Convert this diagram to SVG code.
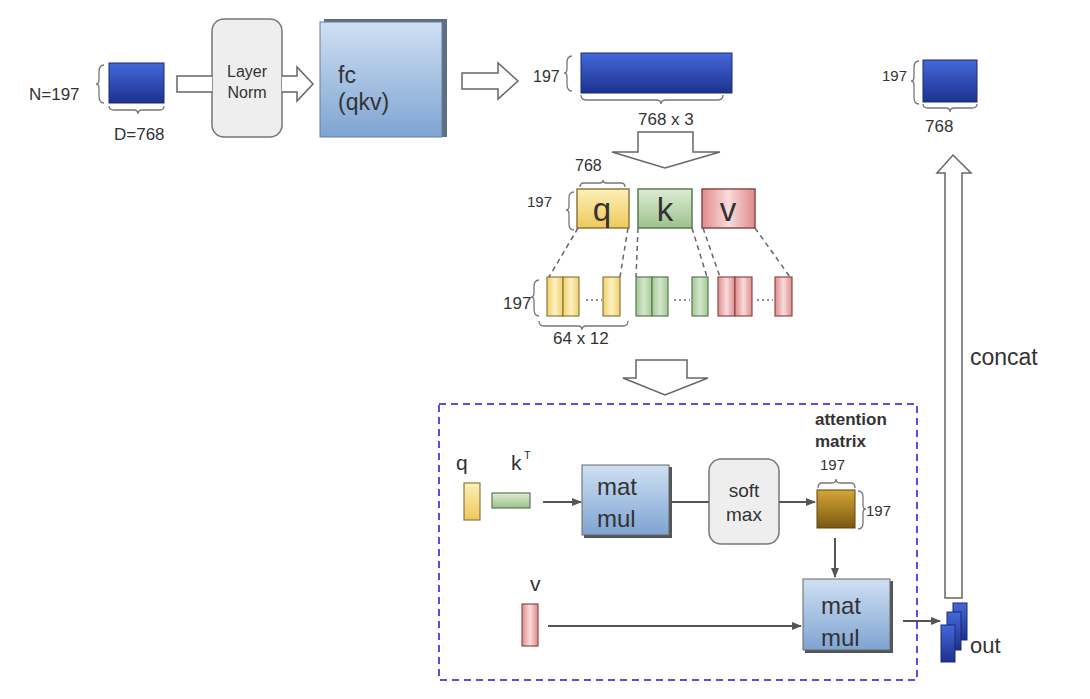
<svg xmlns="http://www.w3.org/2000/svg" width="1090" height="699" viewBox="0 0 1090 699">
<defs>
<linearGradient id="gBlue" x1="0" y1="0" x2="0" y2="1"><stop offset="0" stop-color="#4468d8"/><stop offset="1" stop-color="#1c3290"/></linearGradient>
<linearGradient id="gFc" x1="0" y1="0" x2="0" y2="1"><stop offset="0" stop-color="#cfe0f3"/><stop offset="1" stop-color="#7ea4d2"/></linearGradient>
<linearGradient id="gY" x1="0" y1="0" x2="0" y2="1"><stop offset="0" stop-color="#fdf0b8"/><stop offset="1" stop-color="#efc85a"/></linearGradient>
<linearGradient id="gYh" x1="0" y1="0" x2="1" y2="0"><stop offset="0" stop-color="#f2d06a"/><stop offset="0.5" stop-color="#fdf1c2"/><stop offset="1" stop-color="#f2d06a"/></linearGradient>
<linearGradient id="gG" x1="0" y1="0" x2="0" y2="1"><stop offset="0" stop-color="#dcecd4"/><stop offset="1" stop-color="#9cc28c"/></linearGradient>
<linearGradient id="gGh" x1="0" y1="0" x2="1" y2="0"><stop offset="0" stop-color="#a2c894"/><stop offset="0.5" stop-color="#d4e8cc"/><stop offset="1" stop-color="#a2c894"/></linearGradient>
<linearGradient id="gR" x1="0" y1="0" x2="1" y2="0"><stop offset="0" stop-color="#e08a8a"/><stop offset="0.5" stop-color="#f8dcdc"/><stop offset="1" stop-color="#e08a8a"/></linearGradient>
<linearGradient id="gAtt" x1="0" y1="0" x2="0" y2="1"><stop offset="0" stop-color="#d4a636"/><stop offset="1" stop-color="#7a5810"/></linearGradient>
<marker id="ah" markerWidth="10" markerHeight="8" refX="9" refY="4" orient="auto" markerUnits="userSpaceOnUse"><path d="M0,0 L10,4 L0,8 z" fill="#555"/></marker>
<style>
text{font-family:"Liberation Sans",Arial,sans-serif;fill:#333}
.hollow{fill:#fff;stroke:#666;stroke-width:1.5}
.brace{fill:none;stroke:#777;stroke-width:1.3}
.dash{stroke:#666;stroke-width:1.5;stroke-dasharray:5,4;fill:none}
.line{stroke:#555;stroke-width:2;fill:none}
.blue{fill:url(#gBlue);stroke:#1a2a70;stroke-width:1}
.ybar{fill:url(#gYh);stroke:#8a7a40;stroke-width:1.2}
.gbar{fill:url(#gGh);stroke:#5a7a50;stroke-width:1.2}
.rbar{fill:url(#gR);stroke:#8a4a4a;stroke-width:1.2}
.dots{stroke:#666;stroke-width:1.5;stroke-dasharray:2,3}
</style>
</defs>
<rect width="1090" height="699" fill="#fff"/>

<g id="input">
<text x="29" y="100" font-size="17">N=197</text>
<path class="brace" d="M104,65 Q99,65 99,72 L99,80 Q99,84 96,84 Q99,84 99,88 L99,96 Q99,103 104,103"/>
<rect class="blue" x="109" y="63" width="55" height="40"/>
<path class="brace" d="M109,106 Q109,110 114,110 L134,110 Q138,110 138,114 Q138,110 142,110 L160,110 Q164,110 164,106"/>
<text x="114" y="140" font-size="17">D=768</text>
</g>

<g id="layernorm">
<rect x="212" y="19" width="70" height="118" rx="12" fill="#eeeeee" stroke="#777" stroke-width="1.5"/>
<text x="247" y="77" font-size="16" text-anchor="middle">Layer</text>
<text x="247" y="98" font-size="16" text-anchor="middle">Norm</text>
</g>

<g id="fc">
<rect x="324" y="19" width="123" height="118" fill="#5d6e85"/>
<rect x="320" y="22" width="122" height="115" fill="url(#gFc)" stroke="#6a7d96" stroke-width="1"/>
<text x="338" y="83" font-size="23">fc</text>
<text x="338" y="110" font-size="23">(qkv)</text>
</g>

<g id="qkv-out">
<text x="533" y="82" font-size="16">197</text>
<path class="brace" d="M572,56 Q567,56 567,63 L567,69 Q567,73 564,73 Q567,73 567,77 L567,84 Q567,91 572,91"/>
<rect class="blue" x="581" y="53" width="151" height="40"/>
<path class="brace" d="M581,95 Q581,100 586,100 L656,100 Q661,100 661,104 Q661,100 666,100 L718,100 Q723,100 723,95"/>
<text x="638" y="125" font-size="17">768 x 3</text>
</g>

<g id="qkv-split">
<text x="575" y="171" font-size="16">768</text>
<path class="brace" d="M580,187 Q580,183 584,183 L600,183 Q603,183 603,180 Q603,183 606,183 L621,183 Q625,183 625,187"/>
<text x="527" y="207" font-size="15">197</text>
<path class="brace" d="M574,192 Q569,192 569,198 L569,206 Q569,210 566,210 Q569,210 569,214 L569,224 Q569,230 574,230"/>
<rect x="577" y="189" width="52" height="39" fill="url(#gY)" stroke="#8a7a40" stroke-width="1.5"/>
<text x="602" y="221" font-size="33" text-anchor="middle" fill="#222">q</text>
<rect x="638" y="189" width="54" height="39" fill="url(#gG)" stroke="#5a7a50" stroke-width="1.5"/>
<text x="665" y="221" font-size="33" text-anchor="middle" fill="#222">k</text>
<rect x="702" y="189" width="53" height="39" fill="url(#gR)" stroke="#8a4a4a" stroke-width="1.5"/>
<text x="728" y="221" font-size="33" text-anchor="middle" fill="#222">v</text>
</g>

<g id="heads">
<text x="503" y="309" font-size="17">197</text>
<path class="brace" d="M539,280 Q534,280 534,287 L534,293 Q534,297 531,297 Q534,297 534,301 L534,309 Q534,316 539,316"/>
<rect class="ybar" x="547" y="277" width="16" height="39"/>
<rect class="ybar" x="563" y="277" width="16" height="39"/>
<line class="dots" x1="586" y1="300" x2="602" y2="300"/>
<rect class="ybar" x="603" y="277" width="17" height="39"/>
<rect class="gbar" x="636" y="277" width="16" height="39"/>
<rect class="gbar" x="652" y="277" width="16" height="39"/>
<line class="dots" x1="674" y1="300" x2="690" y2="300"/>
<rect class="gbar" x="692" y="277" width="16" height="39"/>
<rect class="rbar" x="718" y="277" width="17" height="39"/>
<rect class="rbar" x="735" y="277" width="17" height="39"/>
<line class="dots" x1="757" y1="300" x2="773" y2="300"/>
<rect class="rbar" x="775" y="277" width="17" height="39"/>
<path class="brace" d="M539,321 Q539,326 544,326 L578,326 Q582,326 582,330 Q582,326 586,326 L623,326 Q628,326 628,321"/>
<text x="553" y="344" font-size="17">64 x 12</text>
</g>

<g id="attention-block">
<rect x="439" y="404" width="478" height="276" fill="none" stroke="#5a4ee0" stroke-width="2" stroke-dasharray="7,5"/>
<text x="456" y="470" font-size="21">q</text>
<rect x="464" y="483" width="16" height="37" fill="url(#gY)" stroke="#8a7a40" stroke-width="1.2"/>
<text x="511" y="470" font-size="21">k</text>
<text x="524" y="459" font-size="11">T</text>
<rect x="492" y="493" width="38" height="15" fill="url(#gG)" stroke="#5a7a50" stroke-width="1.2"/>
</g>

<g id="matmul1">
<rect x="584" y="467" width="88" height="71" fill="#555"/>
<rect x="582" y="465" width="87" height="70" fill="url(#gFc)" stroke="#666" stroke-width="1"/>
<text x="597" y="495" font-size="24">mat</text>
<text x="597" y="527" font-size="24">mul</text>
</g>

<g id="softmax">
<rect x="709" y="459" width="70" height="85" rx="12" fill="#eeeeee" stroke="#777" stroke-width="1.5"/>
<text x="744" y="497" font-size="19" text-anchor="middle">soft</text>
<text x="744" y="521" font-size="19" text-anchor="middle">max</text>
</g>

<g id="attn-matrix">
<text x="815" y="425" font-size="17" font-weight="bold" fill="#222">attention</text>
<text x="815" y="447" font-size="17" font-weight="bold" fill="#222">matrix</text>
<text x="820" y="470" font-size="15">197</text>
<path class="brace" d="M818,488 Q818,483 822,483 L832,483 Q836,483 836,479 Q836,483 840,483 L851,483 Q855,483 855,488"/>
<rect x="817" y="490" width="38" height="38" fill="url(#gAtt)" stroke="#5a4210" stroke-width="1"/>
<path class="brace" d="M858,491 Q863,491 863,497 L863,505 Q863,509 866,509 Q863,509 863,513 L863,523 Q863,529 858,529"/>
<text x="866" y="516" font-size="15">197</text>
</g>

<g id="v-input">
<text x="530" y="591" font-size="21">v</text>
<rect x="522" y="604" width="16" height="42" fill="url(#gR)" stroke="#8a4a4a" stroke-width="1.2"/>
</g>

<g id="matmul2">
<rect x="805" y="581" width="88" height="72" fill="#555"/>
<rect x="803" y="579" width="87" height="71" fill="url(#gFc)" stroke="#666" stroke-width="1"/>
<text x="821" y="614" font-size="24">mat</text>
<text x="821" y="646" font-size="24">mul</text>
</g>

<g id="out">
<rect class="blue" x="953" y="603" width="14" height="37"/>
<rect class="blue" x="947" y="612" width="14" height="38"/>
<rect class="blue" x="941" y="625" width="14" height="37"/>
<text x="970" y="653" font-size="22">out</text>
</g>

<g id="result">
<text x="882" y="81" font-size="15">197</text>
<path class="brace" d="M919,61 Q914,61 914,68 L914,77 Q914,81 911,81 Q914,81 914,85 L914,97 Q914,104 919,104"/>
<rect class="blue" x="923" y="60" width="54" height="42"/>
<path class="brace" d="M923,104 Q923,108 928,108 L946,108 Q950,108 950,112 Q950,108 954,108 L972,108 Q977,108 977,104"/>
<text x="925" y="132" font-size="17">768</text>
<text x="970" y="365" font-size="23">concat</text>
</g>

<g id="connectors">
<path class="hollow" d="M212,76 L177,76 L177,92 L212,92"/>
<path class="hollow" d="M282,76 L297,76 L297,67 L313,84 L297,101 L297,92 L282,92"/>
<path class="hollow" d="M462,73 L498,73 L498,63 L518,81 L498,99 L498,89 L462,89 Z"/>
<path class="hollow" d="M638,132 L693,132 L693,152 L720,152 L665,168 L612,152 L638,152 Z"/>
<line class="dash" x1="578" y1="228" x2="549" y2="277"/>
<line class="dash" x1="628" y1="228" x2="620" y2="277"/>
<line class="dash" x1="638" y1="228" x2="636" y2="277"/>
<line class="dash" x1="692" y1="228" x2="707" y2="277"/>
<line class="dash" x1="703" y1="228" x2="720" y2="277"/>
<line class="dash" x1="755" y1="228" x2="790" y2="277"/>
<path class="hollow" d="M636,360 L687,360 L687,378 L708,378 L665,395 L623,378 L636,378 Z"/>
<line class="line" x1="543" y1="502" x2="581" y2="502" marker-end="url(#ah)"/>
<line class="line" x1="671" y1="502" x2="709" y2="502"/>
<line class="line" x1="779" y1="502" x2="815" y2="502" marker-end="url(#ah)"/>
<line class="line" x1="835" y1="538" x2="835" y2="577" marker-end="url(#ah)"/>
<line class="line" x1="548" y1="626" x2="801" y2="626" marker-end="url(#ah)"/>
<line class="line" x1="903" y1="621" x2="940" y2="621" marker-end="url(#ah)"/>
<path class="hollow" d="M945,598 L945,173 L937,173 L953,155 L971,173 L962,173 L962,598 Z"/>
</g>
</svg>
